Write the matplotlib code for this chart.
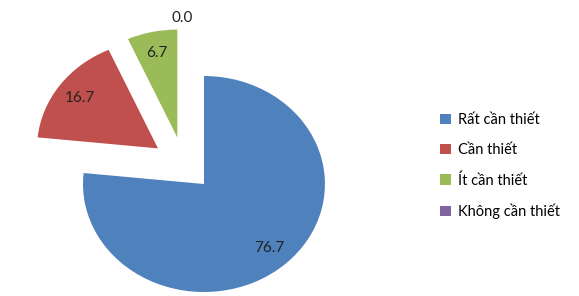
import matplotlib.pyplot as plt

categories = ["Rất cần thiết", "Cần thiết", "Ít cần thiết", "Không cần thiết"]
values = [76.7, 16.7, 6.7, 0.0]
colors = ["#4F81BD", "#C0504D", "#9BBB59", "#8064A2"]

plt.rcParams["font.family"] = ["Lato", "DejaVu Sans"]

fig = plt.figure(figsize=(5.79, 2.96), dpi=100)
ax = fig.add_axes([0, 0, 1, 1])

value_labels = [f"{v:.1f}" for v in values]
wedges, texts = ax.pie(values, labels=value_labels, colors=colors,
                       startangle=90, counterclock=False,
                       labeldistance=0.8,
                       textprops={"fontsize": 11, "color": "#222222"})

# shift the pulled-out slices (Excel style explode)
offsets = [(0, 0), (-0.38, 0.33), (-0.22, 0.43), (0, 0)]
for w, t, (dx, dy) in zip(wedges, texts, offsets):
    w.set_center((dx, dy))
    x, y = t.get_position()
    t.set_position((x + dx, y + dy))
    t.set_ha("center")
texts[3].set_position((-0.18, 1.54))

ax.set_aspect("auto")
ax.set_xlim(-1.686, 3.1)
ax.set_ylim(-1.037, 1.704)
ax.axis("off")

fig.legend(wedges, categories, loc="center left",
           bbox_to_anchor=(433 / 579, 1 - 166 / 296),
           frameon=False, fontsize=10.5, handlelength=0.7, handleheight=0.7,
           handletextpad=0.5, labelspacing=1.1, borderpad=0)

fig.savefig("out.png", dpi=100)
